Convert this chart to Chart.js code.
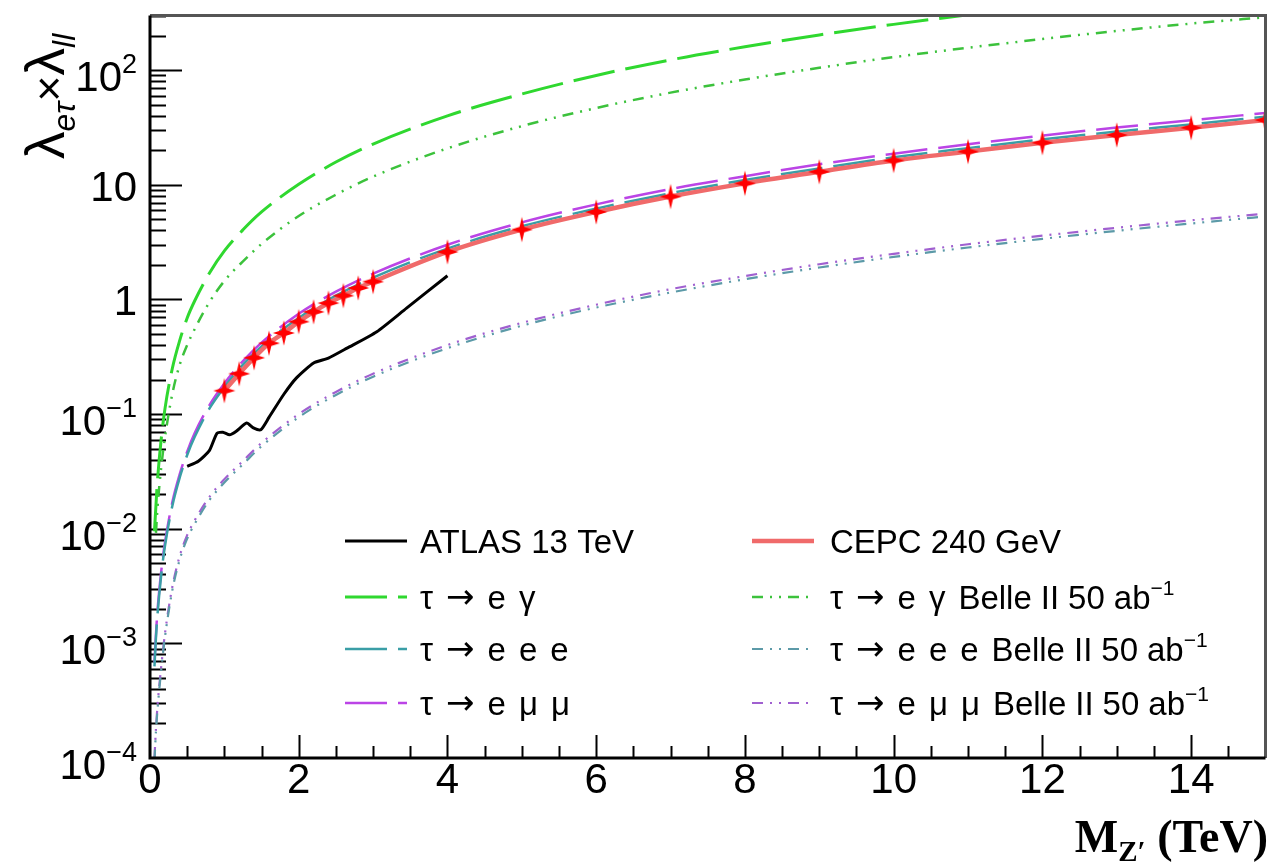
<!DOCTYPE html>
<html>
<head>
<meta charset="utf-8">
<script src="https://cdn.jsdelivr.net/npm/chart.js@4.4.1/dist/chart.umd.min.js"></script>
<style>
  html, body { margin: 0; background: #fff; }
  #wrap { width: 1281px; height: 864px; }
</style>
</head>
<body>
<div id="wrap"><canvas id="chart" width="1281" height="864"></canvas></div>
<script>
// Z' mass grid (TeV) for the smooth projection curves
const massGrid = [0.06, 0.08, 0.1, 0.15, 0.2, 0.3, 0.4, 0.5, 0.6, 0.8, 1, 1.25, 1.5, 2, 2.5, 3, 4, 5, 6, 7, 8, 9, 10, 11, 12, 13, 14, 15];

// current limits (long dashed)
const tauEGamma = [0.0095, 0.016, 0.026, 0.06, 0.11, 0.25, 0.44, 0.69, 0.97, 1.7, 2.65, 4.05, 5.8, 10.1, 15.8, 22.7, 40, 62, 90, 123, 160, 203, 251, 304, 360, 420, 490, 565];
const tauEEE = [0.00063, 0.00112, 0.00175, 0.0039, 0.007, 0.0158, 0.028, 0.044, 0.063, 0.112, 0.172, 0.27, 0.39, 0.69, 1.08, 1.55, 2.78, 4.35, 6.2, 8.45, 11.0, 13.9, 17.4, 20.9, 24.9, 29.1, 33.7, 39.3];
const tauEMuMu = [0.00068, 0.0012, 0.0019, 0.0042, 0.0075, 0.017, 0.030, 0.047, 0.068, 0.12, 0.185, 0.29, 0.42, 0.75, 1.17, 1.68, 3.0, 4.7, 6.75, 9.2, 11.9, 15.1, 18.7, 22.6, 26.9, 31.6, 36.6, 42.3];

// Belle II 50 ab^-1 projections (dash-dot-dot)
const belleEGamma = [null, 0.0092, 0.015, 0.034, 0.062, 0.15, 0.27, 0.4, 0.55, 0.95, 1.45, 2.15, 3.05, 5.35, 8.2, 11.8, 20.8, 32.5, 46.8, 63.7, 83, 105, 130, 157, 187, 220, 255, 290];
const belleEEE = [0.000095, 0.00017, 0.00026, 0.00058, 0.00112, 0.0029, 0.0054, 0.0082, 0.011, 0.0178, 0.0253, 0.0365, 0.0525, 0.094, 0.147, 0.212, 0.376, 0.59, 0.85, 1.15, 1.5, 1.9, 2.35, 2.84, 3.38, 3.97, 4.6, 5.3];
const belleEMuMu = [0.0001, 0.00018, 0.00028, 0.00062, 0.0012, 0.0031, 0.0058, 0.0088, 0.0118, 0.019, 0.027, 0.039, 0.056, 0.1, 0.156, 0.225, 0.4, 0.625, 0.9, 1.23, 1.6, 2.03, 2.5, 3.03, 3.6, 4.22, 4.9, 5.6];

// ATLAS 13 TeV observed
const atlasMass = [0.5, 0.65, 0.8, 0.9, 0.98, 1.07, 1.16, 1.3, 1.39, 1.49, 1.6, 1.8, 1.97, 2.2, 2.4, 2.65, 3.05, 3.45, 4.0];
const atlasLimit = [0.035, 0.0388, 0.0483, 0.068, 0.0695, 0.066, 0.071, 0.0836, 0.0757, 0.073, 0.0936, 0.149, 0.207, 0.279, 0.308, 0.376, 0.523, 0.84, 1.61];

// CEPC 240 GeV
const cepcMass = [1, 1.2, 1.4, 1.6, 1.8, 2, 2.2, 2.4, 2.6, 2.8, 3, 4, 5, 6, 7, 8, 9, 10, 11, 12, 13, 14, 15];
const cepcLimit = [0.16, 0.225, 0.31, 0.415, 0.51, 0.64, 0.78, 0.93, 1.08, 1.26, 1.43, 2.6, 4.07, 5.8, 7.9, 10.3, 13.0, 16.3, 19.5, 23.3, 27.2, 31.5, 36.7];

const xTickLabels = ['0', '2', '4', '6', '8', '10', '12', '14'];
const yDecades = [-4, -3, -2, -1, 0, 1, 2];

const seriesNames = [
  'CEPC 240 GeV',
  'ATLAS 13 TeV',
  'τ → e γ',
  'τ → e e e',
  'τ → e μ μ',
  'τ → e γ Belle II 50 ab^{-1}',
  'τ → e e e Belle II 50 ab^{-1}',
  'τ → e μ μ Belle II 50 ab^{-1}'
];

const pts = (xs, ys) => xs.map((m, i) => ({ x: m, y: ys[i] }));

function starImage(r) {
  const c = document.createElement('canvas');
  c.width = 2 * r + 2; c.height = 2 * r + 6;
  const g = c.getContext('2d');
  const cx = c.width / 2, cy = c.height / 2;
  g.fillStyle = '#ff0000';
  g.beginPath();
  for (let i = 0; i < 8; i++) {
    const a = i * Math.PI / 4 - Math.PI / 2;
    const rr = i % 2 ? r * 0.3 : r;
    g.lineTo(cx + rr * Math.cos(a), cy + rr * Math.sin(a) * 1.15);
  }
  g.closePath();
  g.fill();
  return c;
}

const LONG = [42, 11];
const DDOT = [11, 7, 2, 7, 2, 7];

const datasets = [
  { label: seriesNames[0], data: pts(cepcMass, cepcLimit), borderColor: '#f06a6a', borderWidth: 4.5,
    pointStyle: starImage(11), pointRadius: 11, cubicInterpolationMode: 'monotone' },
  { label: seriesNames[1], data: pts(atlasMass, atlasLimit), borderColor: '#000000', borderWidth: 3, pointRadius: 0, tension: 0.2 },
  { label: seriesNames[2], data: pts(massGrid, tauEGamma), borderColor: '#2fd82f', borderWidth: 3, borderDash: LONG, pointRadius: 0, cubicInterpolationMode: 'monotone' },
  { label: seriesNames[3], data: pts(massGrid, tauEEE), borderColor: '#3a9ea6', borderWidth: 2.5, borderDash: LONG, pointRadius: 0, cubicInterpolationMode: 'monotone' },
  { label: seriesNames[4], data: pts(massGrid, tauEMuMu), borderColor: '#bb44e6', borderWidth: 2.5, borderDash: LONG, pointRadius: 0, cubicInterpolationMode: 'monotone' },
  { label: seriesNames[5], data: pts(massGrid, belleEGamma), borderColor: '#3cc23c', borderWidth: 2.5, borderDash: DDOT, pointRadius: 0, cubicInterpolationMode: 'monotone' },
  { label: seriesNames[6], data: pts(massGrid, belleEEE), borderColor: '#5c9aa8', borderWidth: 2.2, borderDash: DDOT, pointRadius: 0, cubicInterpolationMode: 'monotone' },
  { label: seriesNames[7], data: pts(massGrid, belleEMuMu), borderColor: '#a060d0', borderWidth: 2.2, borderDash: DDOT, pointRadius: 0, cubicInterpolationMode: 'monotone' }
];

const SANS = '"Liberation Sans", Arial, sans-serif';

function richText(ctx, parts, x, y) {
  // parts: [{t, font, dy, gap}] drawn left to right from x on baseline y
  let cx = x;
  for (const p of parts) {
    ctx.font = p.font;
    ctx.fillText(p.t, cx, y + (p.dy || 0));
    cx += ctx.measureText(p.t).width + (p.gap || 0);
  }
  return cx - x;
}
function richWidth(ctx, parts) {
  let w = 0;
  for (const p of parts) { ctx.font = p.font; w += ctx.measureText(p.t).width + (p.gap || 0); }
  return w;
}

// legend label pieces: decay symbols are spread out, the rest is plain text, superscript at the end
function legendParts(label) {
  const [main, sup] = label.split('^{');
  const parts = [];
  if (main.startsWith('τ')) {
    const words = main.split(' ');
    let symbolic = true;
    words.forEach((w, i) => {
      if (w === 'Belle') symbolic = false;
      const font = w === '→' ? '34px "DejaVu Sans", sans-serif' : '33px ' + SANS;
      const gap = i === words.length - 1 ? 0 : (symbolic ? 13 : 9);
      parts.push({ t: w, font, gap, dy: w === '→' ? -1 : 0 });
    });
  } else {
    parts.push({ t: main, font: '33px ' + SANS });
  }
  if (sup) parts.push({ t: sup.replace('}', '').replace('-', '\u2212'), font: '21px ' + SANS, dy: -14 });
  return parts;
}

const rootFrame = {
  id: 'rootFrame',
  beforeDatasetsDraw(chart) {
    const { ctx, chartArea: a, scales: { x, y } } = chart;
    ctx.save();
    ctx.strokeStyle = '#000';
    ctx.lineWidth = 2;
    ctx.beginPath();
    // x ticks: major every 2, minor every 0.5
    for (let v = 0.5; v < 15; v += 0.5) {
      const px = Math.round(x.getPixelForValue(v)) + 0.5;
      const len = v % 2 === 0 ? 23 : 12;
      ctx.moveTo(px, a.bottom); ctx.lineTo(px, a.bottom - len);
    }
    // y ticks: decades + 2..9
    for (const d of yDecades) {
      for (let k = 1; k <= 9; k++) {
        const v = k * Math.pow(10, d);
        if (v > y.max || v <= y.min) continue;
        const py = Math.round(y.getPixelForValue(v)) + 0.5;
        ctx.moveTo(a.left, py); ctx.lineTo(a.left + (k === 1 ? 32 : 16), py);
      }
    }
    ctx.stroke();
    ctx.restore();
  },
  afterDraw(chart) {
    const { ctx, chartArea: a, scales: { x, y } } = chart;
    ctx.save();
    // frame
    ctx.lineWidth = 3;
    ctx.strokeStyle = '#555';
    ctx.beginPath();
    ctx.moveTo(a.left, a.top); ctx.lineTo(a.right, a.top); ctx.lineTo(a.right, a.bottom);
    ctx.stroke();
    ctx.strokeStyle = '#000';
    ctx.beginPath();
    ctx.moveTo(a.left, a.top); ctx.lineTo(a.left, a.bottom); ctx.lineTo(a.right, a.bottom);
    ctx.stroke();

    ctx.fillStyle = '#000';
    ctx.textBaseline = 'alphabetic';
    // x tick labels
    ctx.font = '42px ' + SANS;
    ctx.textAlign = 'center';
    xTickLabels.forEach(t => {
      ctx.fillText(t, x.getPixelForValue(Number(t)), a.bottom + 35);
    });
    // y tick labels
    ctx.textAlign = 'left';
    const rightEdge = 137;
    for (const d of yDecades) {
      const py = y.getPixelForValue(Math.pow(10, d));
      let parts;
      if (d === 0) parts = [{ t: '1', font: '42px ' + SANS }];
      else if (d === 1) parts = [{ t: '10', font: '42px ' + SANS }];
      else parts = [
        { t: '10', font: '42px ' + SANS, dy: 21 },
        { t: (d < 0 ? '\u2212' : '') + Math.abs(d), font: '27px ' + SANS, dy: 3 }
      ];
      const base = (d === 0 || d === 1) ? py + 16 : py;
      richText(ctx, parts, rightEdge - richWidth(ctx, parts), base);
    }

    // x axis title
    const xt = [
      { t: 'M', font: 'bold 46px "Liberation Serif", serif' },
      { t: 'Z\u2032', font: 'bold 29px "Liberation Serif", serif', dy: 9 },
      { t: ' (TeV)', font: 'bold 46px "Liberation Serif", serif' }
    ];
    richText(ctx, xt, 1268 - richWidth(ctx, xt), 852);

    // y axis title (rotated)
    ctx.save();
    ctx.translate(64, 159);
    ctx.rotate(-Math.PI / 2);
    richText(ctx, [
      { t: 'λ', font: '55px ' + SANS },
      { t: 'eτ', font: 'italic 32px ' + SANS, dy: 11 },
      { t: '×', font: '45px ' + SANS },
      { t: 'λ', font: '55px ' + SANS },
      { t: 'll', font: 'italic 32px ' + SANS, dy: 11 }
    ], 0, 0);
    ctx.restore();

    // legend, two columns
    const cols = [{ lx: 345, tx: 420 }, { lx: 752, tx: 830 }];
    const rows = [541, 597, 649, 703];
    const layout = [[1, 0, 0], [0, 1, 0], [2, 0, 1], [5, 1, 1], [3, 0, 2], [6, 1, 2], [4, 0, 3], [7, 1, 3]];
    for (const [i, c, r] of layout) {
      const ds = chart.data.datasets[i];
      const cy = rows[r];
      ctx.save();
      ctx.strokeStyle = ds.borderColor;
      ctx.lineWidth = ds.borderWidth;
      ctx.setLineDash(ds.borderDash || []);
      ctx.beginPath();
      ctx.moveTo(cols[c].lx, cy); ctx.lineTo(cols[c].lx + 62, cy);
      ctx.stroke();
      ctx.restore();
      ctx.fillStyle = '#000';
      richText(ctx, legendParts(ds.label), cols[c].tx, cy + 12);
    }
    ctx.restore();
  }
};

new Chart(document.getElementById('chart'), {
  type: 'line',
  data: { datasets },
  options: {
    responsive: false,
    animation: false,
    devicePixelRatio: 1,
    layout: { padding: { left: 150, top: 8, right: 15, bottom: 106 } },
    plugins: { legend: { display: false }, tooltip: { enabled: false } },
    scales: {
      x: { type: 'linear', min: 0, max: 15, display: false },
      y: { type: 'logarithmic', min: 1e-4, max: 300, display: false }
    }
  },
  plugins: [rootFrame]
});
</script>
</body>
</html>
